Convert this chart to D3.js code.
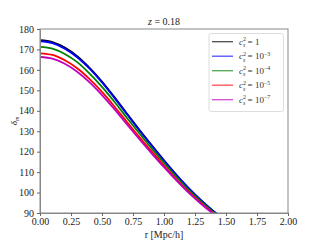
<!DOCTYPE html>
<html><head><meta charset="utf-8">
<script src="https://cdn.jsdelivr.net/npm/d3@7"></script>
<style>body{margin:0;background:#fff}svg{display:block}</style>
</head><body>
<svg id="c" width="320" height="240"></svg>
<script>
const rValues = [0,0.1,0.2,0.3,0.4,0.5,0.6,0.7,0.8,0.9,1.0,1.1,1.2,1.3,1.4,1.5];
const csq1   = [174.5,173.6,170.9,166.7,161.0,154.3,146.7,138.7,130.8,123.2,115.8,108.7,102.1,96.2,90.9,86.3];
const csq1e3 = [174.0,173.1,170.4,166.2,160.6,153.9,146.3,138.4,130.5,123.0,115.6,108.5,102.0,96.1,90.8,86.2];
const csq1e4 = [171.3,170.4,167.8,163.8,158.2,151.7,144.4,136.6,129.0,121.6,114.5,107.6,101.2,95.5,90.3,85.9];
const csq1e5 = [168.1,167.3,164.7,160.8,155.5,149.2,142.1,134.6,127.2,120.1,113.2,106.5,100.3,94.8,89.8,85.4];
const csq1e7 = [166.3,165.5,163.0,159.1,153.9,147.7,140.8,133.4,126.2,119.2,112.4,105.9,99.8,94.4,89.5,85.2];
const seriesExp = [null,"−3","−4","−5","−7"];
const seriesColors = ["#000000","#0000ff","#008000","#ff0000","#bf00bf"];
const seriesData = [csq1,csq1e3,csq1e4,csq1e5,csq1e7];
const xTicks = [0,0.25,0.5,0.75,1.0,1.25,1.5,1.75,2.0];
const yTicks = [90,100,110,120,130,140,150,160,170,180];

const svg = d3.select("#c");
const L=40,R=288,T=29,B=213;
const x = d3.scaleLinear().domain([0,2]).range([L,R]);
const y = d3.scaleLinear().domain([90,180]).range([B,T]);
const serif = "'Liberation Serif','DejaVu Serif',serif";

svg.append("clipPath").attr("id","clip").append("rect").attr("x",L).attr("y",T).attr("width",R-L).attr("height",B-T);

const line = d3.line().x((d,i)=>x(rValues[i])).y(d=>y(d)).curve(d3.curveMonotoneX);
const g = svg.append("g").attr("clip-path","url(#clip)");
seriesData.forEach((s,k)=>{
  g.append("path").attr("d",line(s)).attr("fill","none").attr("stroke",seriesColors[k]).attr("stroke-width",1.8);
});

svg.append("rect").attr("x",L).attr("y",T).attr("width",R-L).attr("height",B-T)
  .attr("fill","none").attr("stroke","#888").attr("stroke-width",1);

const xa = svg.append("g").attr("transform",`translate(0,${B})`)
  .call(d3.axisBottom(x).tickValues(xTicks).tickFormat(d3.format(".2f")).tickSize(3).tickPadding(2).tickSizeOuter(0));
const ya = svg.append("g").attr("transform",`translate(${L},0)`)
  .call(d3.axisLeft(y).tickValues(yTicks).tickFormat(d3.format("d")).tickSize(3).tickSizeOuter(0));
[xa,ya].forEach(a=>{
  a.select(".domain").attr("stroke","#888");
  a.selectAll(".tick line").attr("stroke","#666");
  a.selectAll("text").attr("font-family",serif).attr("font-size",10).attr("fill","#222");
});

svg.append("text").attr("x",(L+R)/2).attr("y",238).attr("text-anchor","middle")
  .attr("font-family",serif).attr("font-size",10).attr("fill","#222").text("r [Mpc/h]");
const t = svg.append("text").attr("x",(L+R)/2).attr("y",25).attr("text-anchor","middle")
  .attr("font-family",serif).attr("font-size",10).attr("fill","#222");
t.append("tspan").attr("font-style","italic").text("z");
t.append("tspan").text(" = 0.18");
const yl = svg.append("text").attr("transform","translate(17,121) rotate(-90)").attr("text-anchor","middle")
  .attr("font-family",serif).attr("font-size",9).attr("fill","#222");
yl.append("tspan").attr("font-style","italic").text("δ");
yl.append("tspan").attr("font-size",6).attr("dy",2).attr("font-style","italic").text("m");

const lg = svg.append("g");
lg.append("rect").attr("x",209).attr("y",33.5).attr("width",74.5).attr("height",78).attr("rx",2)
  .attr("fill","#fff").attr("stroke","#ddd").attr("stroke-width",1);
seriesExp.forEach((e,k)=>{
  const yy = 41.7 + k*14.5;
  lg.append("line").attr("x1",212).attr("x2",233).attr("y1",yy).attr("y2",yy)
    .attr("stroke",seriesColors[k]).attr("stroke-width",1.3).attr("stroke-opacity",0.7);
  const tx = lg.append("text").attr("x",239).attr("y",yy+3).attr("font-family",serif).attr("font-size",9).attr("fill","#333");
  tx.append("tspan").attr("font-style","italic").text("c");
  tx.append("tspan").attr("font-size",6).attr("dy",-3.5).text("2");
  tx.append("tspan").attr("font-size",6).attr("dx",-3).attr("dy",6).attr("font-style","italic").text("s");
  tx.append("tspan").attr("dy",-2.5).text(" = " + (e===null ? "1" : "10"));
  if(e!==null) tx.append("tspan").attr("font-size",6).attr("dy",-3.5).text(e);
});
</script>
</body></html>
